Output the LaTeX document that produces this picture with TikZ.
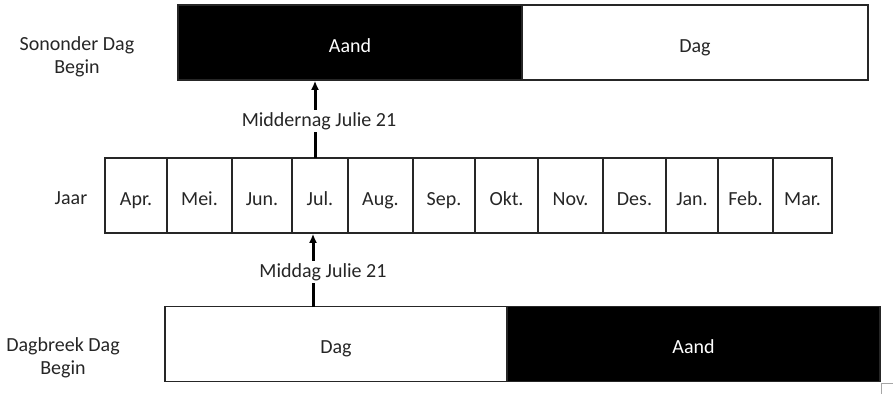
\documentclass[tikz,border=0pt]{standalone}
\usepackage{fontspec}
\setmainfont{Carlito}
\usetikzlibrary{arrows.meta}
\begin{document}
\begin{tikzpicture}[x=.5pt,y=-.5pt,
    bar/.style={draw=black!85,line width=.8pt,minimum height=37.5pt,inner sep=0pt,
      text height=2ex,text depth=0pt},
    nightbar/.style={bar,fill=black,text=white},
    daybar/.style={bar,fill=white,text=black!85},
    cell/.style={bar,text=black!85},
    sidelabel/.style={align=center,text=black!85,font={\fontsize{10}{11.5}\selectfont}},
    datelabel/.style={fill=white,inner sep=1pt,text=black!85},
    tip/.style={line width=1.5pt,-{Latex[length=4.5pt,width=4pt]}}]
  \useasboundingbox (0,0) rectangle (893,393);
  % top: day begins at sunset
  \node[nightbar,minimum width=172pt] (aandTop) at (350,42.5) {Aand};
  \node[daybar,minimum width=173pt] (dagTop) at (695,42.5) {Dag};
  \node[sidelabel] (sunset) at (77,57) {Sononder Dag\\Begin};
  % the year, April to March
  \foreach \l/\r/\m [count=\i] in {105/167/Apr.,167/232/Mei.,232/292/Jun.,292/348/Jul.,
      348/413/Aug.,413/475/Sep.,475/538/Okt.,538/603/Nov.,603/666/Des.,666/718/Jan.,
      718/773/Feb.,773/832/Mar.}{
    \pgfmathsetmacro\w{(\r-\l)*0.5}
    \node[cell,minimum width=\w pt] (m\i) at ({(\l+\r)/2},195.5) {\m};
  }
  \node[sidelabel] (jaar) at (71,198) {Jaar};
  % bottom: day begins at dawn
  \node[daybar,minimum width=171pt] (dagBot) at (336,344) {Dag};
  \node[nightbar,minimum width=186.5pt] (aandBot) at (693.5,344) {Aand};
  \node[sidelabel] (dawn) at (63,358) {Dagbreek Dag\\Begin};
  % midnight and noon arrows
  \coordinate (midnight) at (315,158);
  \coordinate (noon) at (313,307);
  \draw[tip] (midnight) -- (midnight |- aandTop.south);
  \node[datelabel] (midnightLbl) at (319,121) {Middernag Julie 21};
  \draw[tip] (noon) -- (noon |- m4.south);
  \node[datelabel] (noonLbl) at (323,272) {Middag Julie 21};
  % text box handle
  \draw[black!35,line width=.4pt] (881,394) |- (893,383);
\end{tikzpicture}
\end{document}
